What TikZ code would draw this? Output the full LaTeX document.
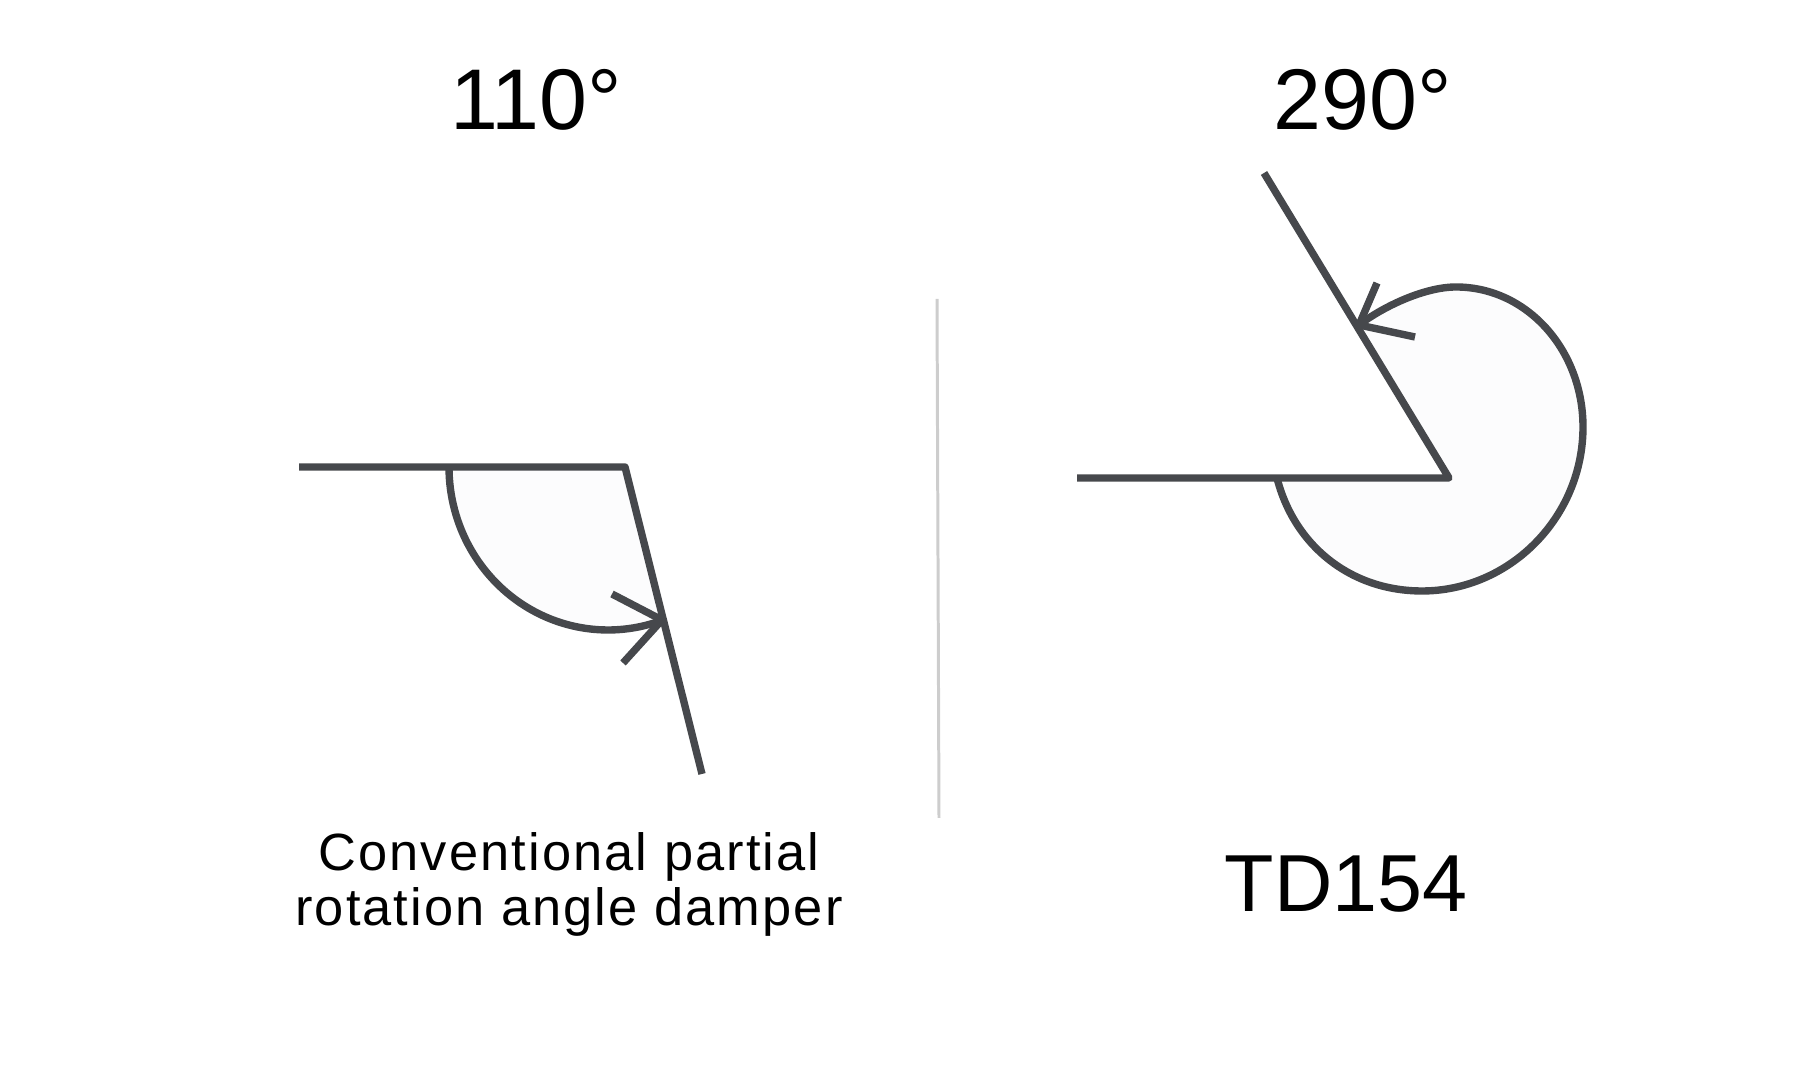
\documentclass[tikz,border=0pt]{standalone}
\usepackage{fontspec}
\setmainfont{Liberation Sans}
\begin{document}
\begin{tikzpicture}[x=0.01cm,y=-0.01cm,
  ink/.style={draw={rgb,255:red,70;green,72;blue,76},line width=2.1pt,line join=round},
  shade/.style={fill={rgb,255:red,252;green,252;blue,253}},
  big/.style={font=\fontsize{24.5}{28}\selectfont,anchor=base,inner sep=0pt},
  captext/.style={font=\fontsize{14.9}{15.65}\selectfont\addfontfeature{LetterSpace=4},align=center,inner sep=0pt,anchor=north}]
\useasboundingbox (0,0) rectangle (1820,1077);
% left figure
\coordinate (La) at (299,467);
\coordinate (Lc) at (625,467);
\coordinate (Lb) at (702,774);
\coordinate (Ls) at (449,467);
\coordinate (Lt) at (662,620);
\coordinate (Lh1) at (612,594);
\coordinate (Lh2) at (623,663);
\fill[shade] (Ls) arc[start angle=180,end angle=70,x radius=159,y radius=163] -- (Lc) -- cycle;
\draw[ink] (Ls) arc[start angle=180,end angle=70,x radius=159,y radius=163];
\draw[ink] (La) -- (Lc) -- (Lb);
\draw[ink] (Lh1) -- (Lt) -- (Lh2);
% divider
\coordinate (Da) at (937,299);
\coordinate (Db) at (939,818);
\draw[line width=0.85pt,draw={rgb,255:red,205;green,205;blue,205}] (Da) -- (Db);
% right figure
\coordinate (Ra) at (1077,478);
\coordinate (Rv) at (1449,478);
\coordinate (Rb) at (1264,173);
\coordinate (Rs) at (1277,478);
\coordinate (Rbot) at (1422,591);
\coordinate (Rr) at (1583,427);
\coordinate (Rtop) at (1456,287);
\coordinate (Rt) at (1359,325);
\coordinate (Rh1) at (1377,283);
\coordinate (Rh2) at (1415,337);
\fill[shade] (Rs) .. controls (1294,545) and (1350,591) .. (Rbot)
  .. controls (1510,591) and (1583,517) .. (Rr)
  .. controls (1583,350) and (1527,287) .. (Rtop)
  .. controls (1425,287) and (1384,306) .. (Rt) -- (Rv) -- cycle;
\draw[ink] (Rs) .. controls (1294,545) and (1350,591) .. (Rbot)
  .. controls (1510,591) and (1583,517) .. (Rr)
  .. controls (1583,350) and (1527,287) .. (Rtop)
  .. controls (1425,287) and (1384,306) .. (Rt);
\draw[ink] (Ra) -- (Rv) -- (Rb);
\draw[ink] (Rh1) -- (Rt) -- (Rh2);
% texts
\node[big] (t110) at (536,130) {110°};
\node[big] (t290) at (1363,130) {290°};
\node[big,font=\fontsize{23}{27}\selectfont] (ttd) at (1346,912) {TD154};
\node[captext] (tcap) at (569,832) {Conventional partial\\rotation angle damper};
\end{tikzpicture}
\end{document}
